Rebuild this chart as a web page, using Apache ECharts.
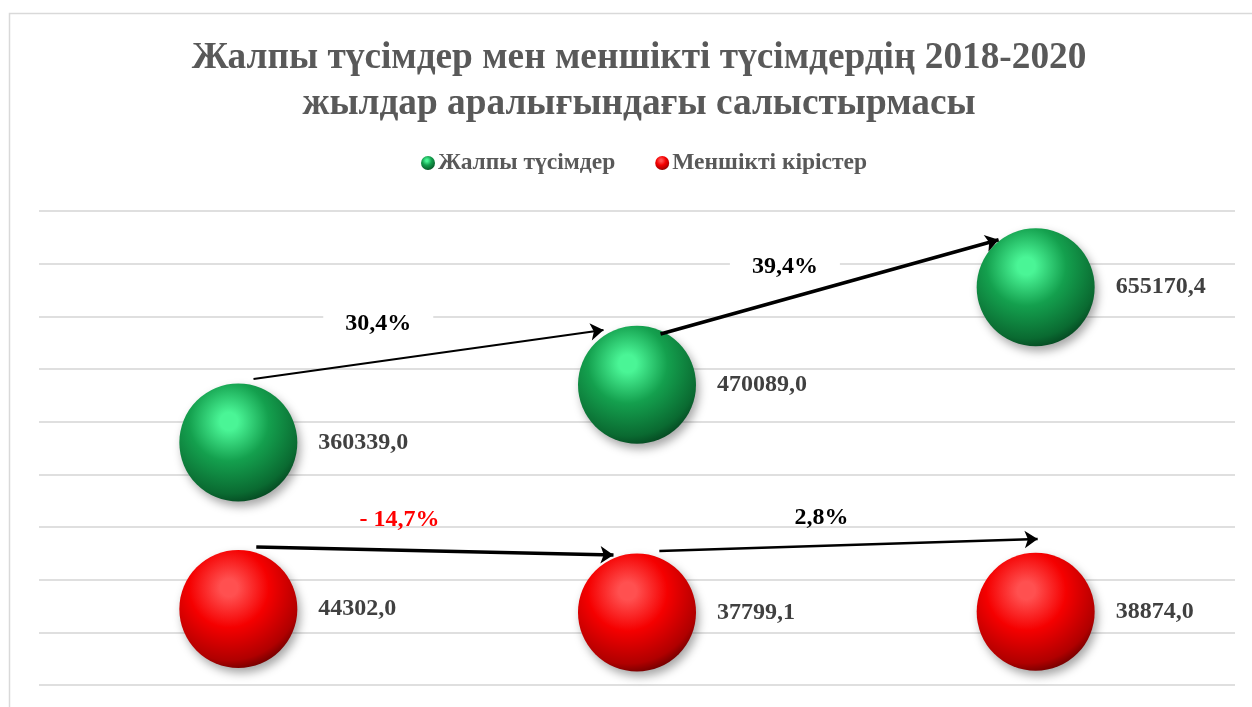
<!DOCTYPE html>
<html>
<head>
<meta charset="utf-8">
<script src="https://cdn.jsdelivr.net/npm/echarts@6/dist/echarts.min.js"></script>
<style>
  html, body { margin: 0; padding: 0; background: #fff; }
  #chart { width: 1252px; height: 707px; }
</style>
</head>
<body>
<div id="chart"></div>
<script>
const years = ['2018', '2019', '2020']
const totalIncome = [360339.0, 470089.0, 655170.4]
const ownIncome = [44302.0, 37799.1, 38874.0]

// growth notes: [x, y, text] in data space of the helper x axis
const greenNotes = [[0.351, 585000, '30,4%'], [1.371, 693600, '39,4%']]
const redNotes = [[0.404, 213000, '- 14,7%'], [1.463, 217000, '2,8%']]
// arrows between the years: [[x1, y1], [x2, y2], width]
const arrows = [
  [[0.038, 481000], [0.916, 574000], 2],
  [[1.059, 566400], [1.907, 745300], 3.5],
  [[0.045, 162000], [0.941, 146800], 3.5],
  [[1.056, 154400], [2.005, 177100], 2.5],
]

const serif = '"Times New Roman", "Liberation Serif", serif'

const sphere = (light, mid, dark, deep) => ({
  type: 'radial',
  x: 0.42,
  y: 0.32,
  r: 0.75,
  colorStops: [
    { offset: 0, color: light },
    { offset: 0.1, color: light },
    { offset: 0.45, color: mid },
    { offset: 0.82, color: dark },
    { offset: 1, color: deep },
  ],
})

const fmt = (v) => v.toFixed(1).replace('.', ',')

const valueLabel = {
  show: true,
  position: 'right',
  distance: 21,
  formatter: (p) => fmt(p.value),
  fontFamily: serif,
  fontWeight: 'bold',
  fontSize: 24,
  color: '#404040',
}

const chart = echarts.init(document.getElementById('chart'))

chart.setOption({
  backgroundColor: '#fff',
  animation: false,
  title: {
    text: 'Жалпы түсімдер мен меншікті түсімдердің 2018-2020\nжылдар аралығындағы салыстырмасы',
    left: 634,
    top: 30,
    textAlign: 'center',
    textStyle: {
      fontFamily: serif,
      fontWeight: 'bold',
      fontSize: 37.3,
      lineHeight: 46,
      color: '#595959',
    },
  },
  legend: {
    data: ['Жалпы түсімдер', 'Меншікті кірістер'],
    top: 146,
    left: 416,
    icon: 'circle',
    itemWidth: 14,
    itemHeight: 14,
    itemGap: 40,
    textStyle: {
      fontFamily: serif,
      fontWeight: 'bold',
      fontSize: 23.5,
      color: '#595959',
      padding: [0, 0, 0, -2],
    },
  },
  graphic: [
    {
      type: 'rect',
      silent: true,
      shape: { x: 9.5, y: 13.5, width: 1400, height: 900 },
      style: { fill: 'none', stroke: '#d9d9d9', lineWidth: 1.5 },
    },
  ],
  grid: { left: 39, right: 17, top: 211, bottom: 22 },
  xAxis: [
    {
      type: 'category',
      data: years,
      boundaryGap: true,
      show: false,
    },
    {
      type: 'value',
      min: -0.5,
      max: 2.5,
      show: false,
    },
  ],
  yAxis: {
    type: 'value',
    min: -100000,
    max: 800000,
    interval: 100000,
    axisLine: { show: false },
    axisTick: { show: false },
    axisLabel: { show: false },
    splitLine: { lineStyle: { color: '#d4d4d4', width: 1.5 } },
  },
  series: [
    {
      name: 'Жалпы түсімдер',
      type: 'scatter',
      data: totalIncome,
      symbolSize: 118,
      itemStyle: {
        opacity: 1,
        color: sphere('#4af596', '#14a04e', '#0a6a31', '#03381a'),
        shadowBlur: 10,
        shadowOffsetX: 3,
        shadowOffsetY: 5,
        shadowColor: 'rgba(0,0,0,0.35)',
      },
      label: valueLabel,
      z: 3,
    },
    {
      name: 'Меншікті кірістер',
      type: 'scatter',
      data: ownIncome,
      symbolSize: 118,
      itemStyle: {
        opacity: 1,
        color: sphere('#ff5050', '#f50000', '#b00000', '#520000'),
        shadowBlur: 10,
        shadowOffsetX: 3,
        shadowOffsetY: 5,
        shadowColor: 'rgba(0,0,0,0.35)',
      },
      label: valueLabel,
      z: 3,
    },
    {
      name: 'arrows',
      type: 'lines',
      coordinateSystem: 'cartesian2d',
      xAxisIndex: 1,
      symbol: ['none', 'arrow'],
      symbolSize: 13,
      data: arrows.map((a) => ({
        coords: [a[0], a[1]],
        lineStyle: { width: a[2] },
      })),
      lineStyle: { color: '#000', opacity: 1, curveness: 0 },
      silent: true,
      z: 4,
    },
    {
      name: 'greenNotes',
      type: 'scatter',
      xAxisIndex: 1,
      symbolSize: 0,
      data: greenNotes,
      itemStyle: { opacity: 1 },
      label: {
        show: true,
        position: 'inside',
        formatter: (p) => p.value[2],
        fontFamily: serif,
        fontWeight: 'bold',
        fontSize: 24,
        color: '#000',
        backgroundColor: '#fff',
        padding: [2, 22],
      },
      silent: true,
      z: 5,
    },
    {
      name: 'redNotes',
      type: 'scatter',
      xAxisIndex: 1,
      symbolSize: 0,
      itemStyle: { opacity: 1 },
      data: redNotes.map((d, i) =>
        i === 0 ? { value: d, label: { color: '#ff0000' } } : d
      ),
      label: {
        show: true,
        position: 'inside',
        formatter: (p) => p.value[2],
        fontFamily: serif,
        fontWeight: 'bold',
        fontSize: 24,
        color: '#000',
      },
      silent: true,
      z: 5,
    },
  ],
})
</script>
</body>
</html>
